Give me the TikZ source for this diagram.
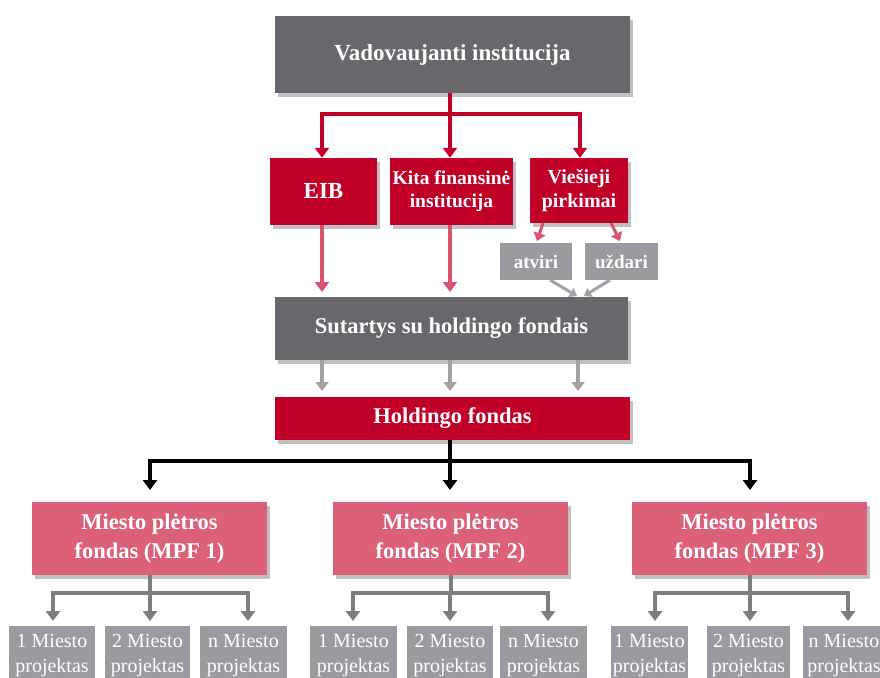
\documentclass[tikz,border=0pt]{standalone}
\usepackage{fontspec}
\setmainfont{Liberation Serif}
\usetikzlibrary{arrows.meta,shadows,calc}
\definecolor{dgray}{HTML}{68676C}
\definecolor{dred}{HTML}{C00026}
\definecolor{pinkarr}{HTML}{D9536B}
\definecolor{lgray}{HTML}{9B9A9F}
\definecolor{mpf}{HTML}{DC6078}
\definecolor{garr}{HTML}{A2A1A5}
\definecolor{garr2}{HTML}{7E7D82}
\tikzset{
  x=1pt,y=-1pt,
  shd/.style={drop shadow={shadow xshift=3pt,shadow yshift=-4pt,opacity=0.35,fill=black!70}},
  bigbox/.style={shd,text=white,font=\fontsize{23}{27}\selectfont\bfseries,inner sep=0pt,align=center},
  darkbox/.style={bigbox,fill=dgray},
  redbox/.style={bigbox,fill=dred},
  smallred/.style={redbox,font=\fontsize{19.5}{23}\selectfont\bfseries},
  greybox/.style={fill=lgray,text=white,font=\fontsize{19}{22}\selectfont\bfseries,inner sep=0pt,minimum width=72pt,minimum height=37pt},
  mpfbox/.style={bigbox,fill=mpf,font=\fontsize{22.5}{29}\selectfont\bfseries,minimum width=235pt,minimum height=73pt},
  projbox/.style={fill=lgray,text=white,font=\fontsize{20}{25}\selectfont,inner sep=0pt,align=center,minimum height=58pt,anchor=north},
  redline/.style={draw=dred,line width=4pt},
  redarr/.style={redline,-{Triangle[width=14pt,length=10pt]}},
  pinkline/.style={draw=pinkarr,line width=4pt,-{Triangle[width=14pt,length=10pt]}},
  grayarr/.style={draw=garr,line width=4pt,-{Triangle[width=13pt,length=9pt]}},
  blkline/.style={draw=black,line width=4pt},
  blkarr/.style={blkline,-{Triangle[width=14pt,length=10pt]}},
  g2line/.style={draw=garr2,line width=4pt},
  g2arr/.style={g2line,-{Triangle[width=14pt,length=10pt]}},
}
\begin{document}
\begin{tikzpicture}
\useasboundingbox (0,0) rectangle (880,677);
\clip (0,0) rectangle (880,677);
\fill[white] (0,0) rectangle (880,677);

% top
\node[darkbox,minimum width=355pt,minimum height=77pt] (vad) at (452.5,54.5) {Vadovaujanti institucija};
\node[redbox,minimum width=107pt,minimum height=67pt] (eib) at (323.5,191.5) {EIB};
\node[smallred,minimum width=123pt,minimum height=67pt] (kita) at (451.5,191.5) {Kita finansinė\\institucija};
\node[smallred,font=\fontsize{20}{24}\selectfont\bfseries,minimum width=98pt,minimum height=65pt] (vies) at (579,190.5) {Viešieji\\pirkimai};
\node[greybox] (atv) at (536,261.5) {atviri};
\node[greybox,minimum width=73pt] (uzd) at (621.5,261.5) {uždari};
\node[darkbox,font=\fontsize{22.5}{27}\selectfont\bfseries,minimum width=353pt,minimum height=63pt] (sut) at (451.5,328.5) {Sutartys su holdingo fondais};
\node[redbox,font=\fontsize{22.5}{27}\selectfont\bfseries,minimum width=355pt,minimum height=43pt] (hold) at (452.5,418.5) {Holdingo fondas};

% red connectors
\coordinate (j1) at (450,114);
\coordinate (jl) at (322,114);
\coordinate (jr) at (580,114);
\draw[redline] (vad.south -| j1) -- (j1);
\draw[redline] ($(jl)+(-2,0)$) -- ($(jr)+(2,0)$);
\draw[redarr] (jl) -- (jl |- eib.north);
\draw[redarr] (j1) -- (j1 |- kita.north);
\draw[redarr] (jr) -- (jr |- vies.north);

% pink
\draw[pinkline] (eib.south -| 322,0) -- (322,292);
\draw[pinkline] (kita.south -| 450,0) -- (450,292);
\draw[pinkarr,line width=3pt,-{Triangle[width=12pt,length=8pt]}] (543,223) -- (537,241);
\draw[pinkarr,line width=3pt,-{Triangle[width=12pt,length=8pt]}] (611,223) -- (620,241);

% grey into sutartys
\draw[draw=garr,line width=3pt,-{Triangle[width=10pt,length=7pt]}] (550,280) -- (577,296);
\draw[draw=garr,line width=3pt,-{Triangle[width=10pt,length=7pt]}] (610,280) -- (584,296);

% sutartys -> holdingo
\draw[grayarr] (sut.south -| 322,0) -- (322,391);
\draw[grayarr] (sut.south -| 450,0) -- (450,391);
\draw[grayarr] (sut.south -| 578,0) -- (578,391);

% MPF
\node[mpfbox] (m1) at (149.5,538.5) {Miesto plėtros\\fondas (MPF 1)};
\node[mpfbox] (m2) at (450.5,538.5) {Miesto plėtros\\fondas (MPF 2)};
\node[mpfbox] (m3) at (749.5,538.5) {Miesto plėtros\\fondas (MPF 3)};

\coordinate (k1) at (450,461);
\coordinate (kl) at (150,461);
\coordinate (kr) at (750,461);
\draw[blkline] (hold.south -| k1) -- (k1);
\draw[blkline] ($(kl)+(-2,0)$) -- ($(kr)+(2,0)$);
\draw[blkarr] (kl) -- (150,490);
\draw[blkarr] (k1) -- (450,490);
\draw[blkarr] (kr) -- (750,490);

% projects
\foreach \m/\cx/\la/\lb/\lc in {
  1/149.5/53/150/248,
  2/450.5/353/450/548,
  3/749.5/655/750/848}{
  \coordinate (s\m) at (\cx,593);
  \draw[g2line] (m\m.south) -- (s\m);
  \draw[g2line] ($(\la,593)+(-2,0)$) -- ($(\lc,593)+(2,0)$);
  \draw[g2arr] (\la,593) -- (\la,621);
  \draw[g2arr] (\lb,593) -- (\lb,621);
  \draw[g2arr] (\lc,593) -- (\lc,621);
}
\node[projbox,minimum width=86pt] (p11) at (52,626) {1 Miesto\\projektas};
\node[projbox,minimum width=85pt] (p12) at (147.5,626) {2 Miesto\\projektas};
\node[projbox,minimum width=87pt] (p13) at (243.5,626) {n Miesto\\projektas};
\node[projbox,minimum width=87pt] (p21) at (353.5,626) {1 Miesto\\projektas};
\node[projbox,minimum width=86pt] (p22) at (450,626) {2 Miesto\\projektas};
\node[projbox,minimum width=87pt] (p23) at (543.5,626) {n Miesto\\projektas};
\node[projbox,minimum width=77pt] (p31) at (649.5,626) {1 Miesto\\projektas};
\node[projbox,minimum width=83pt] (p32) at (748.5,626) {2 Miesto\\projektas};
\node[projbox,minimum width=82pt] (p33) at (844,626) {n Miesto\\projektas};
\end{tikzpicture}
\end{document}
